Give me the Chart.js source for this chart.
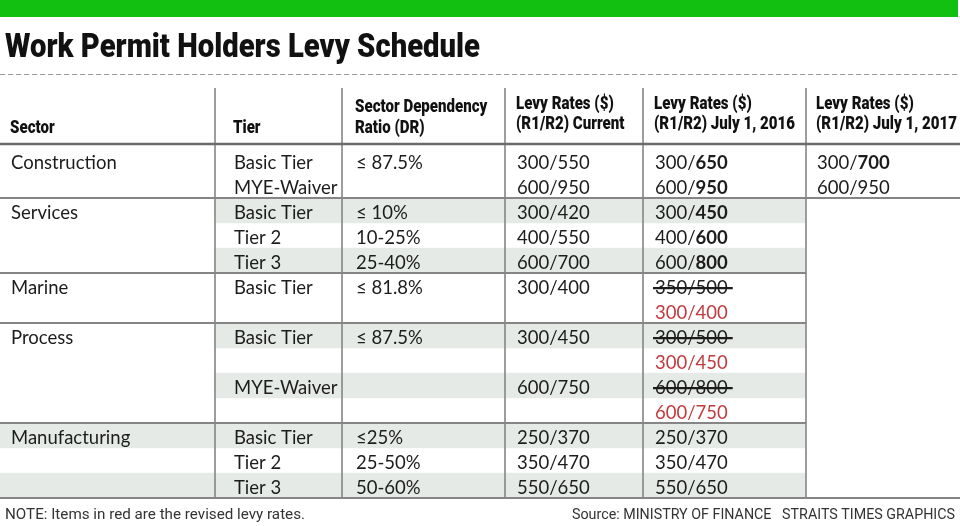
<!DOCTYPE html>
<html>
<head>
<meta charset="utf-8">
<script src="https://cdn.jsdelivr.net/npm/chart.js@4.4.1/dist/chart.umd.min.js"></script>
<style>
  html, body { margin: 0; padding: 0; background: #fff; overflow: hidden; }
</style>
</head>
<body>
<canvas id="chart" width="960" height="526"></canvas>
<script>
// --- table content (one entry per printed line of the table body) ---
const sectors = ['Construction', 'Services', 'Marine', 'Process', 'Manufacturing'];
const sectorLines = [2, 3, 2, 4, 3];

const tiers = ['Basic Tier', 'MYE-Waiver', 'Basic Tier', 'Tier 2', 'Tier 3', 'Basic Tier', '',
  'Basic Tier', '', 'MYE-Waiver', '', 'Basic Tier', 'Tier 2', 'Tier 3'];
const ratios = ['\u2264 87.5%', '', '\u2264 10%', '10-25%', '25-40%', '\u2264 81.8%', '',
  '\u2264 87.5%', '', '', '', '\u226425%', '25-50%', '50-60%'];
const ratesCurrent = ['300/550', '600/950', '300/420', '400/550', '600/700', '300/400', '',
  '300/450', '', '600/750', '', '250/370', '350/470', '550/650'];
const rates2016 = ['300/650', '600/950', '300/450', '400/600', '600/800', '350/500', '300/400',
  '300/500', '300/450', '600/800', '600/750', '250/370', '350/470', '550/650'];
const rates2017 = ['300/700', '600/950', '', '', '', '', '', '', '', '', '', '', '', ''];

// b = raised R2 in bold, s = struck out, r = revised (red)
const marks2016 = ['b', 'b', 'b', 'b', 'b', 's', 'r', 's', 'r', 's', 'r', '', '', ''];
const marks2017 = ['b', '', '', '', '', '', '', '', '', '', '', '', '', ''];

const headers = [['Sector'], ['Tier'], ['Sector Dependency', 'Ratio (DR)'],
  ['Levy Rates ($)', '(R1/R2) Current'], ['Levy Rates ($)', '(R1/R2) July 1, 2016'],
  ['Levy Rates ($)', '(R1/R2) July 1, 2017']];

const shadedLines = [2, 4, 7, 9, 11, 13];
const shadeFromCol = [1, 1, 1, 1, 0, 0];

const title = 'Work Permit Holders Levy Schedule';
const note = 'NOTE: Items in red are the revised levy rates.';
const source = 'Source: MINISTRY OF FINANCE   STRAITS TIMES GRAPHICS';

// --- layout ---
const colEdges = [0, 215, 342, 505, 643, 806, 960];
const colPad = [11, 19, 14, 12, 12, 11];
const lineKeys = tiers.map((t, i) => 'L' + i);
const columns = [null, tiers, ratios, ratesCurrent, rates2016, rates2017];
const columnMarks = [null, null, null, null, marks2016, marks2017];

const shadeData = lineKeys.map((k, i) => {
  const j = shadedLines.indexOf(i);
  return j < 0 ? null : [colEdges[shadeFromCol[j]], colEdges[5]];
});

const BODY = '18.5px Lato';
const BODY_BOLD = 'bold 18.5px Lato';
const HEAD = '900 19px Roboto';
const CAP = 13.3;
const INK = '#1c1c1c';
const RED = '#c23a3e';
const RULE = '#858585';

// condensed text: squeeze horizontally by sx, or to a target width when w is given
function squeezed(ctx, text, x, y, font, sx, w) {
  ctx.font = font;
  const full = ctx.measureText(text).width;
  const k = w ? w / full : sx;
  ctx.save();
  ctx.translate(x, y);
  ctx.scale(k, 1);
  ctx.fillText(text, 0, 0);
  ctx.restore();
}

function drawCell(ctx, text, mark, x, cy) {
  if (!text) return;
  const base = cy + CAP / 2;
  ctx.fillStyle = mark === 'r' ? RED : INK;
  ctx.font = BODY;
  if (mark === 'b') {
    const cut = text.indexOf('/') + 1;
    const head = text.slice(0, cut);
    ctx.fillText(head, x, base);
    const w = ctx.measureText(head).width;
    ctx.font = BODY_BOLD;
    ctx.fillText(text.slice(cut), x + w, base);
    return;
  }
  ctx.fillText(text, x, base);
  if (mark === 's') {
    const w = ctx.measureText(text).width;
    ctx.strokeStyle = INK;
    ctx.lineWidth = 2.2;
    ctx.beginPath();
    ctx.moveTo(x - 2, base - CAP * 0.45);
    ctx.lineTo(x + w + 5, base - CAP * 0.45);
    ctx.stroke();
  }
}

const tablePlugin = {
  id: 'levyTable',
  beforeDraw(chart) {
    const ctx = chart.ctx;
    ctx.save();
    ctx.fillStyle = '#fff';
    ctx.fillRect(0, 0, chart.width, chart.height);
    // green band
    ctx.fillStyle = '#12c012';
    ctx.fillRect(0, 0, 958, 17);
    // title
    ctx.fillStyle = '#111';
    ctx.textBaseline = 'alphabetic';
    squeezed(ctx, title, 5, 57, '900 34px Roboto', 1, 475);
    // dashed rule
    ctx.strokeStyle = '#9a9a9a';
    ctx.lineWidth = 1;
    ctx.setLineDash([5, 3]);
    ctx.beginPath();
    ctx.moveTo(0, 74.5);
    ctx.lineTo(960, 74.5);
    ctx.stroke();
    ctx.setLineDash([]);
    ctx.restore();
  },
  afterDatasetsDraw(chart) {
    const ctx = chart.ctx;
    const y = chart.scales.y;
    const area = chart.chartArea;
    const mid = i => y.getPixelForValue(i);
    ctx.save();
    ctx.textBaseline = 'alphabetic';

    // header, squeezed so that the 2016 caption keeps its printed width
    ctx.font = HEAD;
    const hk = 141 / ctx.measureText(headers[4][1]).width;
    ctx.fillStyle = '#111';
    headers.forEach((h, c) => {
      const x = colEdges[c] + colPad[c] - 1;
      if (h.length === 1) {
        squeezed(ctx, h[0], x, 133, HEAD, hk);
      } else if (c === 2) {
        squeezed(ctx, h[0], x, 112, HEAD, hk);
        squeezed(ctx, h[1], x, 133, HEAD, hk);
      } else {
        squeezed(ctx, h[0], x, 109, HEAD, hk);
        squeezed(ctx, h[1], x, 129, HEAD, hk);
      }
    });

    // rules
    ctx.strokeStyle = RULE;
    ctx.lineWidth = 1.6;
    for (let c = 1; c <= 5; c++) {
      ctx.beginPath();
      ctx.moveTo(colEdges[c], 88);
      ctx.lineTo(colEdges[c], area.bottom);
      ctx.stroke();
    }
    ctx.strokeStyle = '#6a6a6a';
    ctx.lineWidth = 2.5;
    ctx.beginPath();
    ctx.moveTo(0, 144);
    ctx.lineTo(960, 144);
    ctx.stroke();

    ctx.strokeStyle = RULE;
    ctx.lineWidth = 2;
    let first = 0;
    sectors.forEach((s, g) => {
      const last = first + sectorLines[g];
      const edge = last < lineKeys.length ? (mid(last - 1) + mid(last)) / 2 : area.bottom;
      const right = (g === 0 || g === sectors.length - 1) ? 960 : colEdges[5];
      ctx.beginPath();
      ctx.moveTo(0, edge);
      ctx.lineTo(right, edge);
      ctx.stroke();
      // sector name on the group's first line
      drawCell(ctx, s, '', colEdges[0] + colPad[0], mid(first) + 2);
      first = last;
    });

    // cells
    lineKeys.forEach((k, i) => {
      const cy = mid(i) + 2;
      for (let c = 1; c < columns.length; c++) {
        const m = columnMarks[c] ? columnMarks[c][i] : '';
        drawCell(ctx, columns[c][i], m, colEdges[c] + colPad[c], cy);
      }
    });

    // footer
    ctx.fillStyle = '#333';
    squeezed(ctx, note, 5, 519, '15px Roboto', 1, 300);
    squeezed(ctx, source, 572, 519, '15px Roboto', 1, 383);
    ctx.restore();
  }
};

new Chart(document.getElementById('chart'), {
  type: 'bar',
  data: {
    labels: lineKeys,
    datasets: [{
      data: shadeData,
      backgroundColor: '#e6eae6',
      borderWidth: 0,
      barPercentage: 1,
      categoryPercentage: 1
    }]
  },
  options: {
    indexAxis: 'y',
    responsive: false,
    animation: false,
    layout: { padding: { top: 148, bottom: 28, left: 0, right: 0 } },
    scales: {
      x: { type: 'linear', min: 0, max: 960, display: false },
      y: { display: false }
    },
    plugins: {
      legend: { display: false },
      tooltip: { enabled: false }
    }
  },
  plugins: [tablePlugin]
});
</script>
</body>
</html>
